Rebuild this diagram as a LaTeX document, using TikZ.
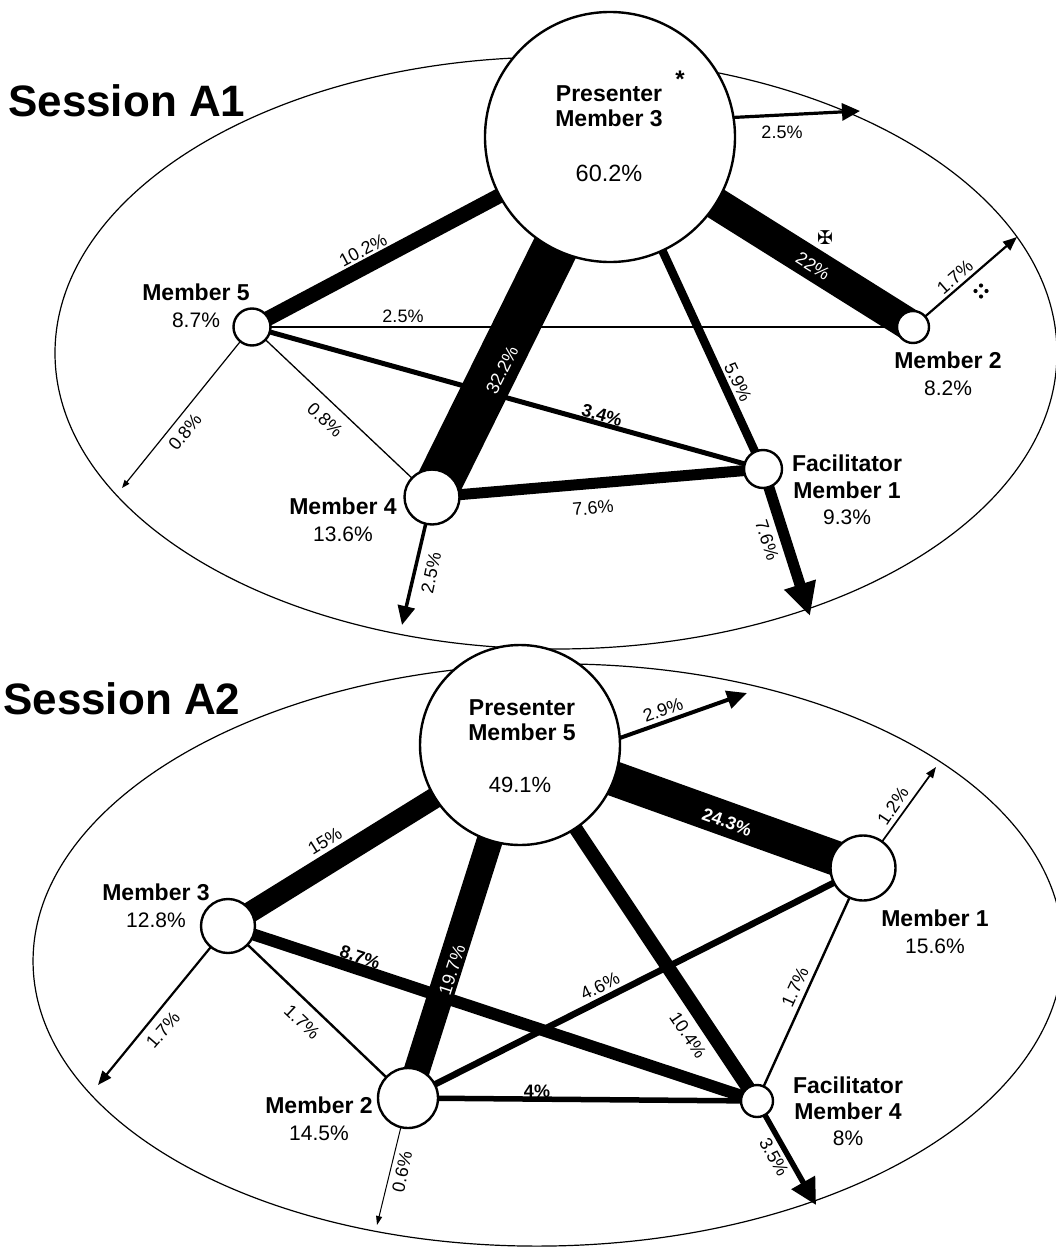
\documentclass[tikz,border=0pt]{standalone}
\usepackage{fontspec}
\setmainfont{Liberation Sans}
\newfontfamily\symfont{DejaVu Sans}
\usetikzlibrary{arrows.meta}
\pgfdeclarelayer{bg}
\pgfdeclarelayer{edges}
\pgfsetlayers{bg,edges,main}
\begin{document}
\begin{tikzpicture}[x=1pt,y=-1pt,
  mem/.style={circle, draw, line width=2.4pt, fill=white, inner sep=0pt, outer sep=0pt},
  blk/.style={align=center, inner sep=0pt, font=\fontsize{23}{27}\selectfont},
  el/.style={inner sep=0pt, font=\fontsize{18}{20}\selectfont},
  elb/.style={inner sep=0pt, font=\fontsize{18}{20}\selectfont\bfseries},
  elw/.style={inner sep=0pt, font=\fontsize{18}{20}\selectfont, text=white},
  elwb/.style={inner sep=0pt, font=\fontsize{18}{20}\selectfont\bfseries, text=white},
  ttl/.style={inner sep=0pt, anchor=west, font=\fontsize{44}{50}\selectfont\bfseries},
  bound/.style={line width=1.2pt},
  pres/.style={align=center, inner sep=0pt, font=\fontsize{23}{25}\selectfont\bfseries}
]
\useasboundingbox (0,0) rectangle (1055,1247);

% ---------------- Session A1 ----------------
\node[ttl] (s1) at (8,101) {Session A1};
\node[mem, minimum size=250pt] (a3) at (610,137) {};
\node[mem, minimum size=37pt] (a5) at (252,327) {};
\node[mem, minimum size=55pt] (a4) at (432,497) {};
\node[mem, minimum size=38pt] (a1) at (763,469) {};
\node[mem, minimum size=32pt] (a2) at (913,327) {};
\coordinate (ta3) at (860,111);
\coordinate (ta5) at (122,488);
\coordinate (ta4) at (402,625);
\coordinate (ta1) at (810,616);
\coordinate (ta2) at (1017,237);

% ---------------- Session A2 ----------------
\node[ttl] (s2) at (3,699) {Session A2};
\node[mem, minimum size=200pt] (b5) at (520,745) {};
\node[mem, minimum size=54pt] (b3) at (228,926) {};
\node[mem, minimum size=60pt] (b2) at (408,1098) {};
\node[mem, minimum size=65pt] (b1) at (863,868) {};
\node[mem, minimum size=32pt] (b4) at (757,1101) {};
\coordinate (tb5) at (747,693);
\coordinate (tb3) at (98,1085);
\coordinate (tb2) at (377,1225);
\coordinate (tb1) at (936,767);
\coordinate (tb4) at (816,1205);

% ---------------- boundaries ----------------
\coordinate (c1) at (556,353);
\coordinate (c2) at (548,955);
\begin{pgfonlayer}{bg}
\draw[bound] (c1) ellipse [x radius=501pt, y radius=296pt];
\draw[bound, rotate around={1:(c2)}] (c2) ellipse [x radius=515pt, y radius=291pt];
\end{pgfonlayer}

% ---------------- connectors ----------------
\begin{pgfonlayer}{edges}
% A1
\draw[line width=46pt] (a3.center) -- (a4.center);
\draw[line width=32pt] (a3.center) -- (a2.center);
\draw[line width=15pt] (a3.center) -- (a5.center);
\draw[line width=11pt] (a4.center) -- (a1.center);
\draw[line width=8.5pt] (a3.center) -- (a1.center);
\draw[line width=5pt] (a5.center) -- (a1.center);
\draw[line width=2.6pt] (a5.center) -- (a2.center);
\draw[line width=1.3pt] (a5.center) -- (a4.center);
\draw[line width=3.2pt, -{Triangle[length=18pt,width=17pt]}] (a3.9) -- (ta3);
\draw[line width=1.2pt, -{Triangle[length=8pt,width=6pt]}] (a5.center) -- (ta5);
\draw[line width=3.5pt, -{Triangle[length=19pt,width=17pt]}] (a4.center) -- (ta4);
\draw[line width=11pt, -{Triangle[length=33pt,width=31pt]}] (a1.center) -- (ta1);
\draw[line width=2.2pt, -{Triangle[length=14pt,width=11pt]}] (a2.center) -- (ta2);
% A2
\draw[line width=35pt] (b5.center) -- (b1.center);
\draw[line width=26pt] (b5.center) -- (b2.center);
\draw[line width=21pt] (b5.center) -- (b3.center);
\draw[line width=14pt] (b5.center) -- (b4.center);
\draw[line width=12pt] (b3.center) -- (b4.center);
\draw[line width=6.5pt] (b2.center) -- (b1.center);
\draw[line width=5.5pt] (b2.center) -- (b4.center);
\draw[line width=2.4pt] (b3.center) -- (b2.center);
\draw[line width=2.4pt] (b1.center) -- (b4.center);
\draw[line width=4pt, -{Triangle[length=20pt,width=18pt]}] (b5.4) -- (tb5);
\draw[line width=2.2pt, -{Triangle[length=14pt,width=11pt]}] (b3.center) -- (tb3);
\draw[line width=1pt, -{Triangle[length=9pt,width=6pt]}] (b2.center) -- (tb2);
\draw[line width=1.7pt, -{Triangle[length=11pt,width=8pt]}] (b1.center) -- (tb1);
\draw[line width=5.5pt, -{Triangle[length=26pt,width=26pt]}] (b4.center) -- (tb4);
\end{pgfonlayer}

% ---------------- A1 texts ----------------
\node[pres] (lp3) at (609,106) {Presenter\\Member 3};
\node[inner sep=0pt, font=\fontsize{23.5}{26}\selectfont] (lv3) at (609,173) {60.2\%};
\node[inner sep=0pt, anchor=base, font=\fontsize{24}{26}\selectfont\bfseries] (ast) at (680,88) {*};
\node[blk] (la5) at (196,306) {\textbf{Member 5}\\ \fontsize{21}{27}\selectfont 8.7\%};
\node[blk] (la4) at (343,520) {\textbf{Member 4}\\ \fontsize{21}{27}\selectfont 13.6\%};
\node[blk, font=\fontsize{23}{26.5}\selectfont] (la1) at (847,490) {\textbf{Facilitator}\\ \textbf{Member 1}\\ \fontsize{21}{26.5}\selectfont 9.3\%};
\node[blk] (la2) at (948,374) {\textbf{Member 2}\\ \fontsize{21}{27}\selectfont 8.2\%};

\node[el, rotate=28] (e1) at (363,250) {10.2\%};
\node[elw, rotate=63.7] (e2) at (502,370) {32.2\%};
\node[elw, rotate=-32] (e3) at (813,266) {22\%};
\node[el, rotate=-65] (e4) at (738,382) {5.9\%};
\node[el] (e5) at (403,316) {2.5\%};
\node[elb, rotate=-15.5] (e6) at (602,415) {3.4\%};
\node[el, rotate=-43] (e7) at (325,420) {0.8\%};
\node[el, rotate=51] (e8) at (185,432) {0.8\%};
\node[el, rotate=5] (e9) at (593,508) {7.6\%};
\node[el, rotate=78] (e10) at (431,573) {2.5\%};
\node[el, rotate=-72] (e11) at (767,540) {7.6\%};
\node[el] (e12) at (782,132) {2.5\%};
\node[el, rotate=41] (e13) at (955,277) {1.7\%};
\node[inner sep=0pt, font=\symfont\fontsize{19}{20}\selectfont] (cross) at (825,238) {✠};
\fill (981,285.5) circle (2.1pt) (975.5,291) circle (2.1pt) (986.5,291) circle (2.1pt) (981,296.5) circle (2.1pt);

% ---------------- A2 texts ----------------
\node[pres] (lp5) at (522,720) {Presenter\\Member 5};
\node[inner sep=0pt, font=\fontsize{22}{24}\selectfont] (lv5) at (520,785) {49.1\%};
\node[blk] (lb3) at (156,906) {\textbf{Member 3}\\ \fontsize{21}{27}\selectfont 12.8\%};
\node[blk] (lb2) at (319,1119) {\textbf{Member 2}\\ \fontsize{21}{27}\selectfont 14.5\%};
\node[blk] (lb1) at (935,932) {\textbf{Member 1}\\ \fontsize{21}{27}\selectfont 15.6\%};
\node[blk, font=\fontsize{23}{26}\selectfont] (lb4) at (848,1111) {\textbf{Facilitator}\\ \textbf{Member 4}\\ \fontsize{21}{26}\selectfont 8\%};

\node[el, rotate=20] (f1) at (663,710) {2.9\%};
\node[elwb, rotate=-19.7] (f2) at (727,822) {24.3\%};
\node[el, rotate=56] (f3) at (893,806) {1.2\%};
\node[el, rotate=32] (f4) at (325,841) {15\%};
\node[elw, rotate=72] (f5) at (452,970) {19.7\%};
\node[el, rotate=-56] (f6) at (688,1035) {10.4\%};
\node[elb, rotate=-18.3] (f7) at (360,957) {8.7\%};
\node[el, rotate=-43.5] (f8) at (302,1022) {1.7\%};
\node[el, rotate=26.7] (f9) at (600,986) {4.6\%};
\node[elb] (f10) at (537,1091) {4\%};
\node[el, rotate=65.5] (f11) at (795,987) {1.7\%};
\node[el, rotate=49] (f12) at (163,1030) {1.7\%};
\node[el, rotate=78] (f13) at (402,1172) {0.6\%};
\node[el, rotate=-61] (f14) at (774,1157) {3.5\%};
\end{tikzpicture}
\end{document}
